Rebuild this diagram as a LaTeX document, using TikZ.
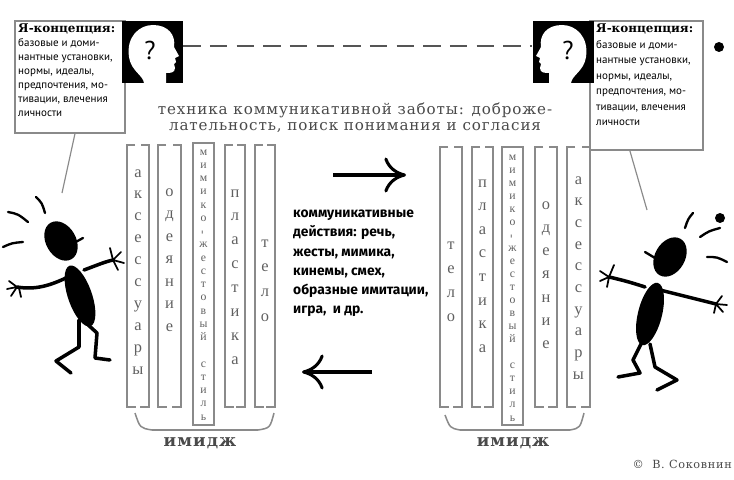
\documentclass[tikz,border=0pt]{standalone}
\usepackage{fontspec}
\setmainfont{Liberation Serif}
\newfontfamily\headfont[LetterSpace=6]{DejaVu Serif}
\newfontfamily\titlefont{DejaVu Serif}
\newfontfamily\selffont{PT Sans}
\newfontfamily\actfont{Fira Sans}
\usetikzlibrary{arrows.meta,calc,positioning}
\definecolor{FrameGray}{HTML}{8A8A8A}
\definecolor{LetterGray}{HTML}{606060}
\definecolor{HeadGray}{HTML}{4A4A4A}
\definecolor{DashGray}{HTML}{555555}

\tikzset{
  colframe/.style={FrameGray,line width=1.3pt},
  colletter/.style={anchor=base,inner sep=0pt,text=LetterGray,
    font=\fontsize{14}{14}\selectfont},
  smallletter/.style={anchor=base,inner sep=0pt,text=LetterGray,
    font=\fontsize{10}{10}\selectfont},
  selfbox/.style={draw=FrameGray,line width=1pt,inner sep=0pt},
  headbox/.style={fill=black,inner sep=0pt,minimum width=1.83cm,minimum height=1.86cm},
  limb/.style={line width=3pt,line cap=round,line join=round},
  finger/.style={line width=1.5pt,line cap=round},
  swish/.style={line width=2pt,line cap=round},
  bigarrow/.style={line width=2.6pt,
    -{Computer Modern Rightarrow[length=6.5mm,width=10.5mm,line width=2.6pt]}},
}

% open column: two brackets, x1 x2 y1 y2
\newcommand\imgcol[4]{%
  \draw[colframe] (#1+8,#3) -- (#1,#3) -- (#1,#4) -- (#1+9,#4);
  \draw[colframe] (#2-8,#3) -- (#2,#3) -- (#2,#4) -- (#2-9,#4);}
% letters stacked: x, first baseline, step, style, name, letters
\newcommand\vword[6]{%
  \foreach \ch [count=\k from 0] in {#6}
    \node[#4] (#5\k) at (#1,#2+\k*#3) {\ch};}
% white profile on the black square, local units, facing right
\newcommand\selfhead{%
  \fill[white] (22,62) .. controls (21,54) and (9,50) .. (7,36)
    .. controls (4,16) and (17,4) .. (31,4)
    .. controls (46,4) and (54,14) .. (52,26)
    -- (57,35) -- (53,37) -- (54,41) -- (52,43) -- (53,47)
    .. controls (53,52) and (48,52) .. (44,52) -- (44,62) -- cycle;}

\begin{document}
\begin{tikzpicture}[x=0.03cm,y=-0.03cm]
  \useasboundingbox (0,0) rectangle (734,479);

  % self-concept boxes with heads
  \node[selfbox,minimum width=3.3cm,minimum height=3.36cm] (leftself) at (70,77) {};
  \node[selfbox,minimum width=3.39cm,minimum height=3.87cm] (rightself) at (646.5,85.5) {};
  \node[headbox] (lefthead) at (152.5,52) {};
  \node[headbox] (righthead) at (563,52) {};
  \begin{scope}[shift={(122,21)}]
    \selfhead
  \end{scope}
  \begin{scope}[shift={(593,21)},xscale=-1]
    \selfhead
  \end{scope}
  \node[font=\selffont\fontsize{22}{22}\selectfont] (leftq) at (150,50) {?};
  \node[font=\selffont\fontsize{22}{22}\selectfont] (rightq) at (568,50) {?};
  \draw[DashGray,line width=1pt,dash pattern=on 0.52cm off 0.28cm]
    ([yshift=0.18cm]lefthead.east) -- ([yshift=0.18cm]righthead.west);

  \node[anchor=north west,align=left,inner sep=0pt,
    font=\selffont\fontsize{9.4}{11.9}\selectfont] (leftselftext) at (18,24)
    {{\titlefont\bfseries\fontsize{10.2}{11.9}\selectfont Я-концепция:}\\
     базовые и доми-\\нантные установки,\\нормы, идеалы,\\
     предпочтения, мо-\\тивации, влечения\\личности};
  \node[anchor=north west,align=left,inner sep=0pt,
    font=\selffont\fontsize{9.4}{13.2}\selectfont] (rightselftext) at (596,24)
    {{\titlefont\bfseries\fontsize{10.2}{13.2}\selectfont Я-концепция:}\\
     базовые и доми-\\нантные установки,\\нормы, идеалы,\\
     предпочтения, мо-\\тивации, влечения\\личности};

  \coordinate (leftcall) at (62,193);
  \coordinate (rightcall) at (647,210);
  \draw[FrameGray,line width=1pt] ([xshift=0.15cm]leftself.south) -- (leftcall);
  \draw[FrameGray,line width=1pt] ([xshift=-0.5cm]rightself.south) -- (rightcall);

  \node[align=center,text=HeadGray,inner sep=0pt,
    font=\headfont\fontsize{12.9}{13.8}\selectfont] (care) at (355,118)
    {техника коммуникативной заботы: доброже-\\лательность, поиск понимания и согласия};

  % left image columns
  \imgcol{127}{149}{145}{407}
  \imgcol{158}{181}{145}{407}
  \draw[colframe] (193,143) rectangle (214,425);
  \imgcol{225}{245}{145}{407}
  \imgcol{255}{275}{145}{407}
  \vword{138}{177}{21.9}{colletter}{la}{а,к,с,е,с,с,у,а,р,ы}
  \vword{169.5}{196}{22.5}{colletter}{lo}{о,д,е,я,н,и,е}
  \vword{203.5}{155}{13.25}{smallletter}{lm}{м,и,м,и,к,о,{\rotatebox{90}{-}},ж,е,с,т,о,в,ы,й,{},с,т,и,л,ь}
  \vword{235}{197}{23.9}{colletter}{lp}{п,л,а,с,т,и,к,а}
  \vword{265}{247}{24.7}{colletter}{lt}{т,е,л,о}

  % right image columns
  \imgcol{440}{462}{147}{407}
  \imgcol{472}{493}{147}{407}
  \draw[colframe] (502,147) rectangle (523,425);
  \imgcol{535}{557}{147}{407}
  \imgcol{567}{590}{147}{407}
  \vword{451}{249}{24}{colletter}{rt}{т,е,л,о}
  \vword{482.5}{187}{23.6}{colletter}{rp}{п,л,а,с,т,и,к,а}
  \vword{512.5}{160}{13.05}{smallletter}{rm}{м,и,м,и,к,о,{\rotatebox{90}{-}},ж,е,с,т,о,в,ы,й,{},с,т,и,л,ь}
  \vword{546}{209}{23.3}{colletter}{ro}{о,д,е,я,н,и,е}
  \vword{578.5}{184}{21.7}{colletter}{ra}{а,к,с,е,с,с,у,а,р,ы}

  % braces and labels
  \draw[colframe] (135,413) .. controls (140,428) .. (152,430) -- (258,430)
    .. controls (270,428) .. (274,413);
  \draw[colframe] (445,415) .. controls (450,428) .. (460,430) -- (570,430)
    .. controls (580,428) .. (584,413);
  \node[font=\headfont\bfseries\fontsize{14.5}{14.5}\selectfont,text=HeadGray] (leftimage) at (200,443) {имидж};
  \node[font=\headfont\bfseries\fontsize{14.5}{14.5}\selectfont,text=HeadGray] (rightimage) at (513,443) {имидж};

  % exchange between the two
  \coordinate (fwdtail) at (333,175);
  \coordinate (fwdtip) at (406,175);
  \coordinate (backtail) at (372,372);
  \coordinate (backtip) at (302,372);
  \draw[bigarrow] (fwdtail) -- (fwdtip);
  \draw[bigarrow] (backtail) -- (backtip);
  \node[anchor=north west,align=left,inner sep=0pt,
    font=\actfont\bfseries\fontsize{11.8}{16.3}\selectfont] (acts) at (293,210)
    {коммуникативные\\действия: речь,\\жесты, мимика,\\кинемы, смех,\\
     образные имитации,\\игра,\ \ и др.};

  % left figure
  \fill[rotate around={-60:(61,241)}] (61,241) ellipse [x radius=21,y radius=15];
  \draw[limb,line width=2pt] (72,244) -- (83,238);
  \fill[rotate around={-71:(80,296)}] (80,296) ellipse [x radius=32,y radius=12];
  \draw[limb] (70,276) .. controls (50,286) and (35,290) .. (17,287);
  \draw[finger] (17,287) -- (9,281) (17,287) -- (7,289) (17,287) -- (11,296) (19,288) -- (21,297);
  \draw[limb] (84,270) .. controls (95,266) and (104,262) .. (113,260);
  \draw[finger] (113,260) -- (110,248) (113,260) -- (121,252) (113,260) -- (124,263) (113,260) -- (118,270);
  \draw[limb] (79,320) -- (79,347) -- (56,361) -- (71,373);
  \draw[limb] (85,322) -- (97,333) -- (95,358) -- (110,360);
  \draw[swish] (8,212) .. controls (18,214) .. (28,222);
  \draw[swish] (36,197) .. controls (42,203) .. (45,213);
  \draw[swish] (3,247) .. controls (12,243) .. (23,242);

  % right figure
  \fill[rotate around={60:(670,257)}] (670,257) ellipse [x radius=21,y radius=15];
  \draw[limb,line width=2pt] (655,258) -- (645,252);
  \fill[rotate around={76:(650,314)}] (650,314) ellipse [x radius=32,y radius=12];
  \draw[limb] (645,287) .. controls (630,282) and (618,279) .. (609,277);
  \draw[finger] (609,277) -- (614,265) (609,277) -- (600,271) (609,277) -- (600,281) (609,277) -- (607,287);
  \draw[limb] (660,290) .. controls (680,295) and (700,300) .. (716,304);
  \draw[finger] (716,304) -- (722,296) (716,304) -- (727,305) (716,304) -- (723,312) (716,304) -- (714,313);
  \draw[limb] (642,342) -- (633,360) -- (640,373) -- (618,377);
  \draw[limb] (650,344) -- (655,367) -- (677,380) -- (657,390);
  \draw[swish] (685,228) .. controls (688,219) .. (693,213);
  \draw[swish] (700,237) .. controls (709,231) .. (720,228);
  \draw[swish] (707,257) .. controls (717,257) .. (727,262);

  % slide bullets
  \fill (719,47) circle [radius=5];
  \fill (720,218) circle [radius=5];

  \node[anchor=base east,inner sep=0pt,text=HeadGray,
    font=\headfont\fontsize{9.6}{9.6}\selectfont] (credit) at (732,468) {©\ \ В. Соковнин};
\end{tikzpicture}
\end{document}
